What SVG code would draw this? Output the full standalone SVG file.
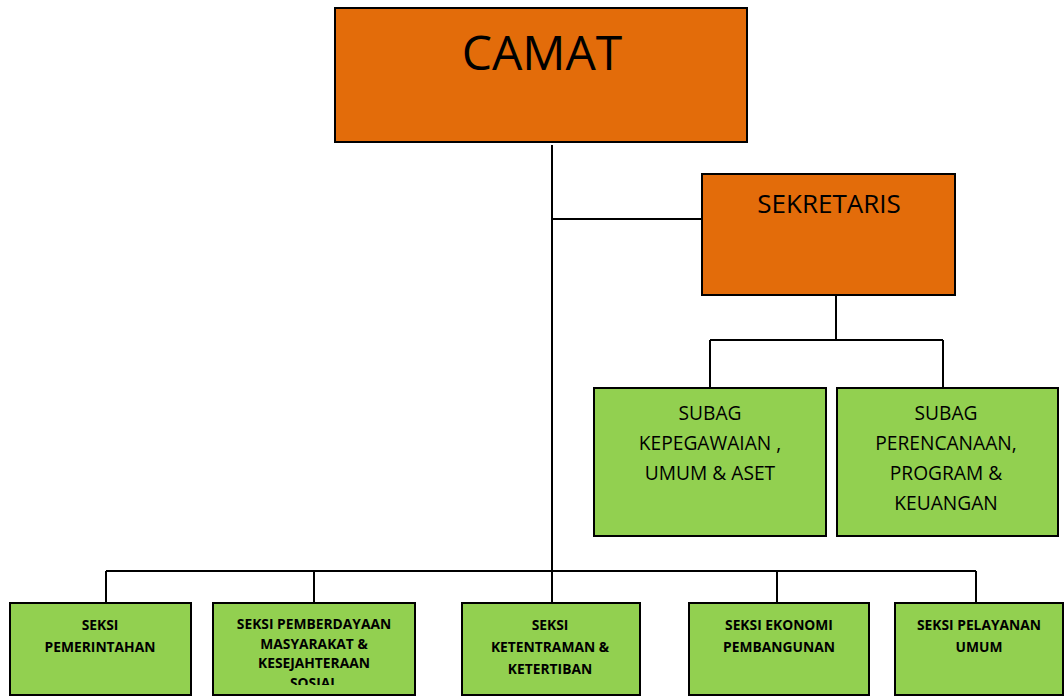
<svg xmlns="http://www.w3.org/2000/svg" width="1064" height="696" viewBox="0 0 1064 696">
<style>
.org{fill:#E36C0A;stroke:#000;stroke-width:2}
.grn{fill:#92D050;stroke:#000;stroke-width:2}
.t{font-family:"Open Sans","Liberation Sans",sans-serif;fill:#000;text-anchor:middle}
.s{font-size:19.2px}
.b{font-size:13.8px;font-weight:bold}
.ln{stroke:#000;stroke-width:2;fill:none}
</style>
<defs>
<clipPath id="clip2"><rect x="213" y="603" width="202" height="82"/></clipPath>
</defs>
<rect width="1064" height="696" fill="#fff"/>
<g id="connectors">
<path class="ln" d="M552 145V571"/>
<path class="ln" d="M552 219H702"/>
<path class="ln" d="M836 295V340M710 340H943M710 340V388M943 340V388"/>
<path class="ln" d="M106 571H976M106 571V603M314 571V603M552 571V603M777 571V603M976 571V603"/>
</g>
<g id="camat">
<rect class="org" x="335" y="8" width="412" height="134"/>
<text class="t" x="542" y="70" font-size="48">CAMAT</text>
</g>
<g id="sekretaris">
<rect class="org" x="702" y="174" width="253" height="121"/>
<text class="t" x="829" y="213" font-size="26">SEKRETARIS</text>
</g>
<g id="subag-kepegawaian">
<rect class="grn" x="594" y="388" width="232" height="148"/>
<text class="t s" x="710" y="420">SUBAG</text>
<text class="t s" x="710" y="450">KEPEGAWAIAN ,</text>
<text class="t s" x="710" y="480">UMUM &amp; ASET</text>
</g>
<g id="subag-perencanaan">
<rect class="grn" x="837" y="388" width="221" height="148"/>
<text class="t s" x="946" y="420">SUBAG</text>
<text class="t s" x="946" y="450">PERENCANAAN,</text>
<text class="t s" x="946" y="480">PROGRAM &amp;</text>
<text class="t s" x="946" y="510">KEUANGAN</text>
</g>
<g id="seksi-pemerintahan">
<rect class="grn" x="10" y="603" width="181" height="92"/>
<text class="t b" x="100" y="630">SEKSI</text>
<text class="t b" x="100" y="652">PEMERINTAHAN</text>
</g>
<g id="seksi-pemberdayaan">
<rect class="grn" x="213" y="603" width="202" height="92"/>
<g clip-path="url(#clip2)">
<text class="t b" x="314" y="629">SEKSI PEMBERDAYAAN</text>
<text class="t b" x="314" y="648.5">MASYARAKAT &amp;</text>
<text class="t b" x="314" y="668">KESEJAHTERAAN</text>
<text class="t b" x="314" y="688">SOSIAL</text>
</g>
</g>
<g id="seksi-ketentraman">
<rect class="grn" x="462" y="603" width="178" height="92"/>
<text class="t b" x="550" y="630">SEKSI</text>
<text class="t b" x="550" y="652">KETENTRAMAN &amp;</text>
<text class="t b" x="550" y="674">KETERTIBAN</text>
</g>
<g id="seksi-ekonomi">
<rect class="grn" x="689" y="603" width="180" height="92"/>
<text class="t b" x="779" y="630">SEKSI EKONOMI</text>
<text class="t b" x="779" y="652">PEMBANGUNAN</text>
</g>
<g id="seksi-pelayanan">
<rect class="grn" x="895" y="603" width="168" height="92"/>
<text class="t b" x="979" y="630">SEKSI PELAYANAN</text>
<text class="t b" x="979" y="652">UMUM</text>
</g>
</svg>
